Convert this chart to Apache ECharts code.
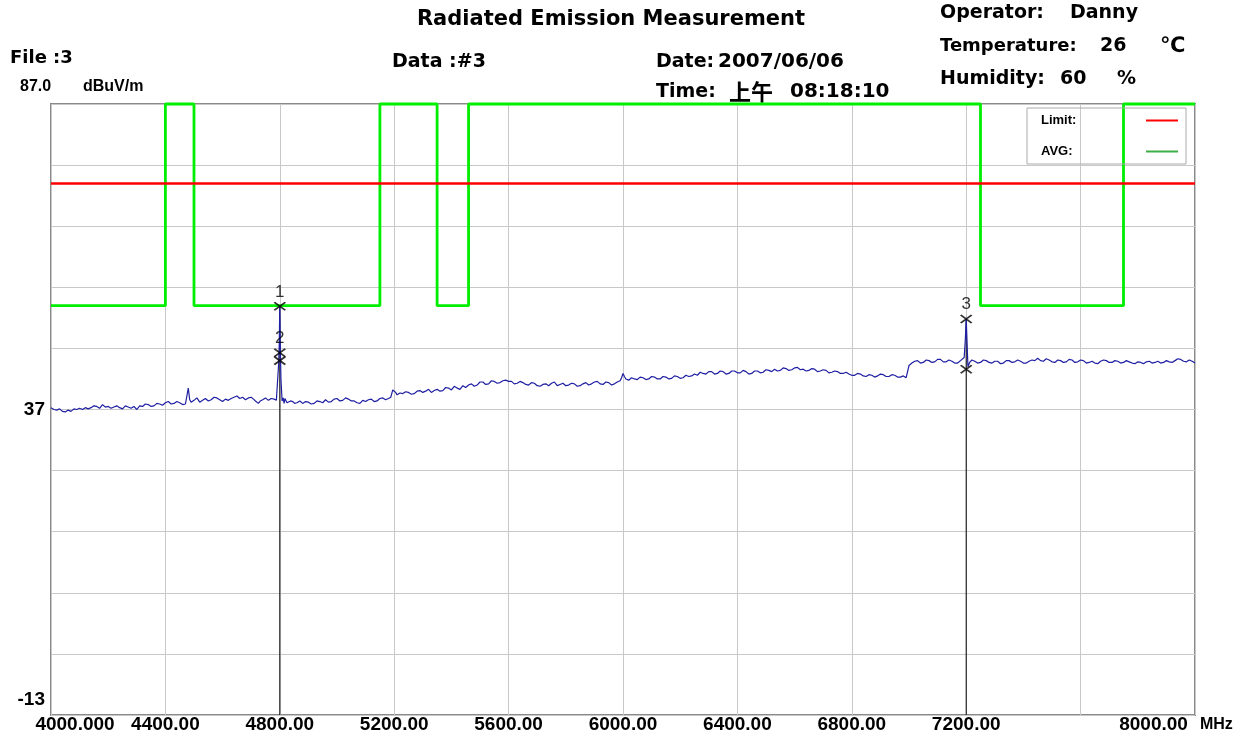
<!DOCTYPE html>
<html><head><meta charset="utf-8">
<script src="https://cdn.jsdelivr.net/npm/echarts@6/dist/echarts.min.js"></script>
<style>html,body{margin:0;padding:0;background:#fff}#c{width:1244px;height:744px}</style>
</head><body><div id="c"></div>
<script>
// ---- data ----
const xTickValues = [4000, 4400, 4800, 5200, 5600, 6000, 6400, 6800, 7200, 7600, 8000];
const xTickLabels = ['4000.000', '4400.00', '4800.00', '5200.00', '5600.00', '6000.00', '6400.00', '6800.00', '7200.00', '', '8000.00'];
const xUnit = 'MHz';
const yTickValues = [37, -13];
const yTickLabels = ['37', '-13'];
const yTopLabel = '87.0';
const yUnit = 'dBuV/m';

const limitLevel = 74;          // Limit (red)
const avgLimitLevel = 54;       // AVG limit in restricted bands (green)
const avgTopLevel = 87;         // AVG mask outside restricted bands (top of chart)
const restrictedBands = [[4000, 4400], [4500, 5150], [5350, 5460], [7250, 7750]];

// measured trace [MHz, dBuV/m]
const trace = [
[4000,37.3],[4010,37.0],[4020,36.9],[4030,37.1],[4040,36.7],[4050,36.6],[4060,36.9],[4070,36.7],[4080,37.1],[4090,37.0],
[4100,37.2],[4110,37.0],[4120,37.3],[4130,37.1],[4140,37.3],[4150,37.6],[4160,37.5],[4170,37.2],[4180,37.8],[4190,37.4],
[4200,37.5],[4210,37.2],[4220,37.4],[4230,37.6],[4240,37.3],[4250,37.1],[4260,37.6],[4270,37.4],[4280,37.2],[4290,37.5],
[4300,37.0],[4310,37.6],[4320,37.5],[4330,37.9],[4340,37.8],[4350,37.5],[4360,37.6],[4370,38.0],[4380,37.9],[4390,37.7],
[4400,38.1],[4410,38.3],[4420,37.9],[4430,38.0],[4440,38.3],[4450,38.1],[4460,37.8],[4470,37.9],[4475,37.7],[4480,40.5],
[4485,38.6],[4490,38.2],[4500,38.5],[4510,38.9],[4520,38.2],[4530,38.5],[4540,38.8],[4550,38.4],[4560,38.6],[4570,39.0],
[4580,38.9],[4590,38.6],[4600,38.3],[4610,38.7],[4620,38.5],[4630,38.8],[4640,39.0],[4650,39.2],[4660,38.8],[4670,39.0],
[4680,38.6],[4690,38.9],[4700,39.0],[4708,38.7],[4715,38.4],[4725,38.0],[4732,38.4],[4740,38.6],[4750,38.9],[4760,38.5],
[4770,38.8],[4780,38.7],[4788,38.5],[4792,38.6],[4796,44.5],[4798,47.5],[4800,53.9],[4802,47.0],[4804,42.0],[4808,38.4],
[4812,38.9],[4815,38.0],[4818,38.8],[4820,38.6],[4825,38.1],[4830,37.9],[4838,38.4],[4845,38.3],[4852,38.0],[4860,38.1],
[4870,38.4],[4880,38.0],[4890,38.3],[4900,38.2],[4910,37.9],[4920,38.0],[4930,38.4],[4940,38.3],[4950,38.1],[4960,38.6],
[4970,38.2],[4980,38.3],[4990,38.7],[5000,38.8],[5010,38.4],[5020,38.5],[5030,38.9],[5040,38.7],[5050,38.4],[5060,38.4],
[5070,38.1],[5080,38.0],[5090,38.5],[5100,38.3],[5110,38.6],[5120,38.7],[5130,38.3],[5140,38.4],[5150,38.8],[5160,38.9],
[5170,38.6],[5180,38.8],[5188,39.0],[5195,40.2],[5200,40.4],[5205,39.8],[5210,39.4],[5220,39.7],[5230,39.6],[5240,39.9],
[5250,39.8],[5260,39.5],[5270,39.6],[5280,40.0],[5290,40.1],[5300,39.8],[5310,40.0],[5320,40.3],[5330,39.8],[5340,40.1],
[5350,40.3],[5360,40.0],[5370,40.1],[5380,40.6],[5390,40.5],[5400,40.2],[5410,40.8],[5420,40.5],[5430,40.3],[5440,40.9],
[5450,40.6],[5460,41.0],[5470,41.2],[5480,40.8],[5490,41.0],[5500,41.5],[5510,41.5],[5520,41.1],[5530,41.2],[5540,41.7],
[5550,41.6],[5560,41.3],[5570,41.4],[5580,41.7],[5590,41.8],[5600,41.6],[5610,41.6],[5620,41.2],[5630,41.3],[5640,41.6],
[5650,41.4],[5660,41.1],[5670,41.0],[5680,41.4],[5690,41.3],[5700,40.9],[5710,40.8],[5720,41.1],[5730,41.2],[5740,40.9],
[5750,41.3],[5760,41.5],[5770,40.9],[5780,41.1],[5790,41.3],[5800,40.9],[5810,41.0],[5820,41.3],[5830,41.2],[5840,40.8],
[5850,40.9],[5860,41.2],[5870,41.4],[5880,41.0],[5890,41.2],[5900,41.5],[5910,41.6],[5920,41.2],[5930,41.1],[5940,41.5],
[5950,41.4],[5960,41.0],[5970,41.2],[5980,41.5],[5990,41.7],[5995,42.2],[6000,42.9],[6005,42.4],[6010,42.0],[6020,41.8],
[6030,42.2],[6040,42.0],[6050,41.9],[6060,42.3],[6070,42.2],[6080,41.9],[6090,42.0],[6100,42.4],[6110,42.3],[6120,42.0],
[6130,42.0],[6140,42.4],[6150,42.3],[6160,42.0],[6170,42.1],[6180,42.5],[6190,42.4],[6200,42.1],[6210,42.2],[6220,42.6],
[6230,42.4],[6240,42.5],[6250,42.8],[6260,42.6],[6270,43.1],[6280,42.9],[6290,42.8],[6300,43.2],[6310,43.2],[6320,42.8],
[6330,42.9],[6340,43.3],[6350,43.2],[6360,42.8],[6370,42.9],[6380,43.3],[6390,43.3],[6400,43.0],[6410,43.0],[6420,43.4],
[6430,43.2],[6440,42.8],[6450,42.9],[6460,43.3],[6470,43.3],[6480,43.0],[6490,43.1],[6500,43.5],[6510,43.4],[6520,43.2],
[6530,43.6],[6540,43.3],[6550,43.4],[6560,43.8],[6570,43.7],[6580,43.4],[6590,43.5],[6600,43.8],[6610,43.9],[6620,43.5],
[6630,43.6],[6640,43.3],[6650,43.4],[6660,43.7],[6670,43.6],[6680,43.2],[6690,43.3],[6700,43.5],[6710,43.4],[6720,43.0],
[6730,43.1],[6740,43.3],[6750,43.2],[6760,42.9],[6770,42.9],[6780,43.1],[6790,42.8],[6800,42.6],[6810,42.6],[6820,42.9],
[6830,42.8],[6840,42.5],[6850,42.4],[6860,42.7],[6870,42.6],[6880,42.3],[6890,42.5],[6900,42.8],[6910,42.7],[6920,42.4],
[6930,42.4],[6940,42.7],[6950,42.6],[6960,42.3],[6970,42.3],[6980,42.5],[6990,42.2],[6995,43.2],[7000,44.2],[7010,44.6],
[7020,44.9],[7030,45.0],[7040,44.6],[7050,44.7],[7060,45.1],[7070,45.0],[7080,44.7],[7090,44.8],[7100,45.2],[7110,45.2],
[7120,44.8],[7130,44.8],[7140,45.1],[7150,44.9],[7160,44.6],[7170,44.6],[7180,45.0],[7185,44.8],[7193,45.5],[7197,48.5],
[7200,51.9],[7203,48.0],[7206,44.0],[7212,44.7],[7220,45.1],[7230,44.9],[7240,44.6],[7250,44.7],[7260,45.1],[7270,45.0],
[7280,44.7],[7290,44.6],[7300,44.9],[7310,44.9],[7320,44.5],[7330,44.6],[7340,45.0],[7350,45.0],[7360,44.7],[7370,44.8],
[7380,45.1],[7390,44.9],[7400,44.6],[7410,44.6],[7420,44.9],[7430,45.1],[7440,45.0],[7450,45.4],[7460,45.0],[7470,44.9],
[7480,45.3],[7490,45.1],[7500,44.8],[7510,44.7],[7520,45.1],[7530,45.0],[7540,44.7],[7550,44.8],[7560,45.2],[7570,45.1],
[7580,44.7],[7590,44.8],[7600,45.1],[7610,45.0],[7620,44.6],[7630,44.7],[7640,44.9],[7650,44.6],[7660,44.5],[7670,44.9],
[7680,45.1],[7690,45.0],[7700,44.7],[7710,44.7],[7720,45.0],[7730,44.9],[7740,44.6],[7750,44.7],[7760,45.0],[7770,44.8],
[7780,44.6],[7790,44.5],[7800,44.8],[7810,44.7],[7820,44.5],[7830,44.8],[7840,44.9],[7850,44.6],[7860,44.7],[7870,44.9],
[7880,44.6],[7890,44.7],[7900,45.0],[7910,44.8],[7920,44.7],[7930,45.0],[7940,45.3],[7950,45.2],[7960,44.9],[7970,44.8],
[7980,45.1],[7990,44.9],[8000,44.6]
];

const markerFreq = [4800, 4800, 4800, 7200, 7200];
const markerLevel = [53.9, 46.3, 45.0, 51.8, 43.6];
const markerLabel = ['1', '2', '', '3', ''];
const markerLineFreq = [4800, 7200];
const markerLineTop = [53.9, 51.8];

// ---- build ----
const xMin = xTickValues[0], xMax = xTickValues[xTickValues.length - 1];
const yMin = -13, yMax = 87;

const avgData = [];
restrictedBands.forEach((b, i) => {
  if (i > 0) avgData.push([b[0], avgTopLevel]);
  else if (b[0] > xMin) avgData.push([xMin, avgTopLevel], [b[0], avgTopLevel]);
  avgData.push([b[0], avgLimitLevel], [b[1], avgLimitLevel], [b[1], avgTopLevel]);
});
avgData.push([xMax, avgTopLevel]);

const lab = "'Liberation Sans', Arial, sans-serif";
const head = "'DejaVu Sans', sans-serif";
const cjk = "'Noto Sans CJK SC', sans-serif";

const xLabelMap = {};
xTickValues.forEach((v, i) => xLabelMap[v] = xTickLabels[i]);
const yLabelMap = {};
yTickValues.forEach((v, i) => yLabelMap[v] = yTickLabels[i]);

const tickFont = { fontFamily: lab, fontWeight: 'bold', fontSize: 19, color: '#000' };

const markerSeries = {
  name: 'Markers', type: 'scatter', z: 6,
  symbol: 'path://M0,0L10,8M10,0L0,8', symbolSize: [11, 8],
  itemStyle: { color: 'rgba(0,0,0,0)', borderColor: '#000', borderWidth: 1.8 },
  label: { show: true, position: 'top', distance: 1, color: '#000', fontSize: 17, fontFamily: lab,
    formatter: p => markerLabel[p.dataIndex] },
  data: markerFreq.map((f, i) => [f, markerLevel[i]])
};

const markerLineSeries = markerLineFreq.map((f, i) => ({
  name: 'MarkerLine' + i, type: 'line', z: 1, symbol: 'none', silent: true,
  lineStyle: { color: '#000', width: 1 },
  data: [[f, markerLineTop[i]], [f, yMin]]
}));

const T = (text, x, y, size, family, weight, align) => ({
  type: 'text', x: x, y: y, silent: true,
  style: { text: text, fill: '#000', font: (weight || 'bold') + ' ' + size + 'px ' + (family || head), verticalAlign: 'middle', align: align || 'left' }
});

const chart = echarts.init(document.getElementById('c'));
chart.setOption({
  animation: false,
  backgroundColor: '#fff',
  grid: { left: 51, right: 49, top: 104, bottom: 29, show: true, borderColor: '#8a8a8a', borderWidth: 2, backgroundColor: 'transparent' },
  xAxis: {
    type: 'value', min: xMin, max: xMax, interval: 400,
    axisLine: { show: false }, axisTick: { show: false },
    splitLine: { show: true, lineStyle: { color: '#c8c8c8', width: 1 } },
    axisLabel: Object.assign({
      margin: 0, showMinLabel: true, showMaxLabel: true,
      formatter: v => {
        const t = xLabelMap[v] || '';
        if (v === xMin) return '{first|' + t + '}';
        if (v === xMax) return '{last|' + t + '}{unit|' + xUnit + '}';
        return t;
      },
      rich: {
        first: Object.assign({ padding: [0, 0, 0, 48] }, tickFont),
        last: Object.assign({}, tickFont),
        unit: { padding: [0, 38, 0, 12], fontFamily: lab, fontWeight: 'bold', fontSize: 16, color: '#000' }
      }
    }, tickFont)
  },
  yAxis: {
    type: 'value', min: yMin, max: yMax, interval: 10,
    axisLine: { show: false }, axisTick: { show: false },
    splitLine: { show: true, lineStyle: { color: '#c8c8c8', width: 1 } },
    axisLabel: Object.assign({
      margin: 6, showMinLabel: true, showMaxLabel: false,
      formatter: v => {
        const t = yLabelMap[v];
        if (t === undefined) return '';
        if (v === yMin) return '{low|' + t + '}';
        return t;
      },
      rich: { low: Object.assign({ padding: [0, 0, 30, 0] }, tickFont) }
    }, tickFont)
  },
  legend: {
    left: 1027, top: 108, orient: 'vertical', align: 'right',
    data: [{ name: 'Limit' }, { name: 'AVG', itemStyle: { color: '#3caf47' } }],
    formatter: n => '{t|' + n + ':}',
    icon: 'rect', itemWidth: 32, itemHeight: 2, itemGap: 18,
    padding: [6, 8, 6, 14], borderColor: '#aaaaaa', borderWidth: 1, backgroundColor: 'transparent',
    textStyle: { fontFamily: lab, fontWeight: 'bold', fontSize: 13, color: '#000',
      rich: { t: { width: 100, align: 'left', fontFamily: lab, fontWeight: 'bold', fontSize: 13, color: '#000' } } }
  },
  graphic: [
    T('Radiated Emission Measurement', 611, 20, 21, head, 'bold', 'center'),
    T('File :3', 10, 58, 18),
    T('Data :#3', 392, 62, 19),
    T('Date:', 656, 62, 19), T('2007/06/06', 718, 62, 20),
    T('Time:', 656, 92, 19), T('上午', 729, 92, 22, cjk), T('08:18:10', 790, 92, 20),
    T('Operator:', 940, 13, 19), T('Danny', 1070, 13, 19),
    T('Temperature:', 940, 46, 18), T('26', 1100, 46, 19), T('℃', 1160, 47, 21, head),
    T('Humidity:', 940, 79, 19), T('60', 1060, 79, 19), T('%', 1117, 79, 19),
    T(yTopLabel, 20, 87, 16, lab), T(yUnit, 83, 87, 16, lab)
  ],
  series: [
    { name: 'AVG', type: 'line', z: 3, symbol: 'none', clip: false, color: '#00ee00',
      lineStyle: { color: '#00ee00', width: 2.8 }, data: avgData },
    { name: 'Limit', type: 'line', z: 3, symbol: 'none', color: '#ff0000',
      lineStyle: { color: '#ff0000', width: 2.5 }, data: [[xMin, limitLevel], [xMax, limitLevel]] },
    ...markerLineSeries,
    { name: 'Trace', type: 'line', z: 4, symbol: 'none', color: '#1f1fa3',
      lineStyle: { color: '#1f1fa3', width: 1.2 }, data: trace },
    markerSeries
  ]
});
</script></body></html>
